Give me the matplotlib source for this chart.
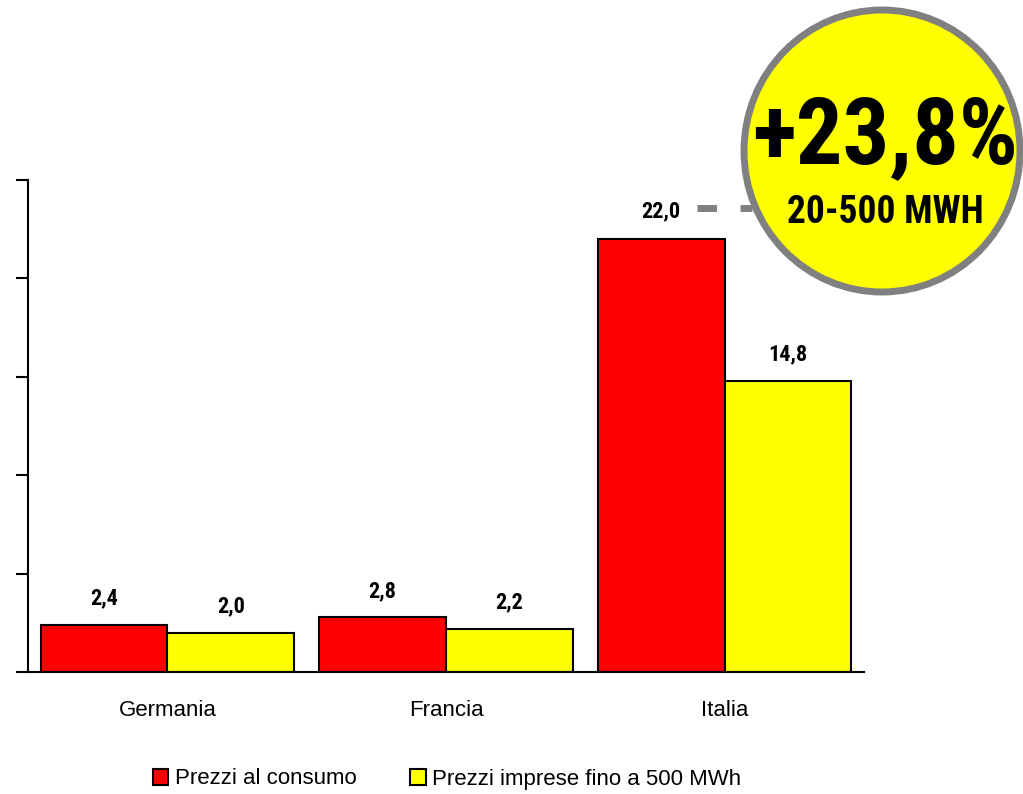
import matplotlib
matplotlib.use("Agg")
import matplotlib.pyplot as plt
from matplotlib.patches import Ellipse
from matplotlib.lines import Line2D
from matplotlib import font_manager as fm
import numpy as np

categories = ["Germania", "Francia", "Italia"]
consumo = [2.4, 2.8, 22.0]
imprese = [2.0, 2.2, 14.8]
consumo_labels = ["2,4", "2,8", "22,0"]
imprese_labels = ["2,0", "2,2", "14,8"]
series_names = ["Prezzi al consumo", "Prezzi imprese fino a 500 MWh"]
badge_big = "+23,8%"
badge_small = "20-500 MWH"


def _w(v):
    try:
        return int(v)
    except (TypeError, ValueError):
        return {"bold": 700, "heavy": 800, "black": 900, "semibold": 600, "demibold": 600}.get(str(v), 400)


bold_names = {f.name for f in fm.fontManager.ttflist if _w(f.weight) >= 700 and f.style == "normal"}
narrow = "Liberation Sans"
for cand in ["Liberation Sans Narrow", "Arial Narrow", "Arimo Narrow", "Roboto Condensed",
             "PT Sans Narrow", "Archivo Narrow", "Open Sans Condensed", "Pragati Narrow",
             "Asap Condensed", "Encode Sans Condensed", "Fira Sans Condensed", "IBM Plex Sans Condensed"]:
    if cand in bold_names:
        narrow = cand
        break
plt.rcParams['font.family'] = ['Liberation Sans', 'DejaVu Sans']

W, H = 1023, 794
fig = plt.figure(figsize=(W / 100, H / 100), dpi=100)
ax = fig.add_axes([28 / W, 1 - 672 / H, (864 - 28) / W, (672 - 180) / H])

x = np.arange(len(categories))
bw = 0.455
ax.bar(x - bw / 2, consumo, bw, color="#FF0000", edgecolor="black", linewidth=1.5, label=series_names[0])
ax.bar(x + bw / 2, imprese, bw, color="#FFFF00", edgecolor="black", linewidth=1.5, label=series_names[1])

px = 72 / 100  # points per pixel
for i in range(len(categories)):
    off = 22 if consumo[i] > 20 else 20
    ax.annotate(consumo_labels[i], (x[i] - bw / 2, consumo[i]), xytext=(0, off * px),
                textcoords="offset points", ha="center", va="baseline",
                fontsize=16, fontweight="bold", family=narrow)
    ax.annotate(imprese_labels[i], (x[i] + bw / 2, imprese[i]), xytext=(0, 20 * px),
                textcoords="offset points", ha="center", va="baseline",
                fontsize=16, fontweight="bold", family=narrow)

ax.set_xlim(-0.5, 2.5)
ax.set_ylim(0, 25)
ax.set_yticks(np.arange(0, 26, 5))
ax.set_yticklabels([])
ax.tick_params(axis="y", direction="out", length=9, width=1.5)
ax.set_xticks(x)
ax.set_xticklabels(categories, fontsize=16)
ax.tick_params(axis="x", length=0, pad=20)
for s in ["top", "right"]:
    ax.spines[s].set_visible(False)
for s in ["left", "bottom"]:
    ax.spines[s].set_linewidth(1.5)

fig.legend(loc="center", bbox_to_anchor=(0.437, 1 - 779 / H), ncol=2, frameon=False,
           fontsize=16, handlelength=0.7, handleheight=0.7, handletextpad=0.3,
           columnspacing=2.4)

# dashed connector
fig.add_artist(Line2D([697 / W, 752 / W], [1 - 208 / H, 1 - 208 / H], transform=fig.transFigure,
                      color="#808080", linewidth=5, linestyle=(0, (2.8, 3.4)), zorder=4))
# badge circle
fig.add_artist(Ellipse((882 / W, 1 - 151 / H), 276 / W, 282 / H, transform=fig.transFigure,
                       facecolor="#FFFF00", edgecolor="#808080", linewidth=5, zorder=5))
t_big = fig.text(885 / W, 1 - 163 / H, badge_big, ha="center", va="baseline", fontsize=72,
                 fontweight="bold", family=narrow, zorder=6)
t_small = fig.text(885 / W, 1 - 223 / H, badge_small, ha="center", va="baseline", fontsize=27,
                   fontweight="bold", family=narrow, zorder=6)

# fit badge texts to the reference widths (in pixels)
renderer = fig.canvas.get_renderer()
for t, target in [(t_big, 266), (t_small, 206)]:
    w = t.get_window_extent(renderer).width
    if w > target:
        t.set_fontsize(t.get_fontsize() * target / w)

fig.savefig("out.png", dpi=100)
